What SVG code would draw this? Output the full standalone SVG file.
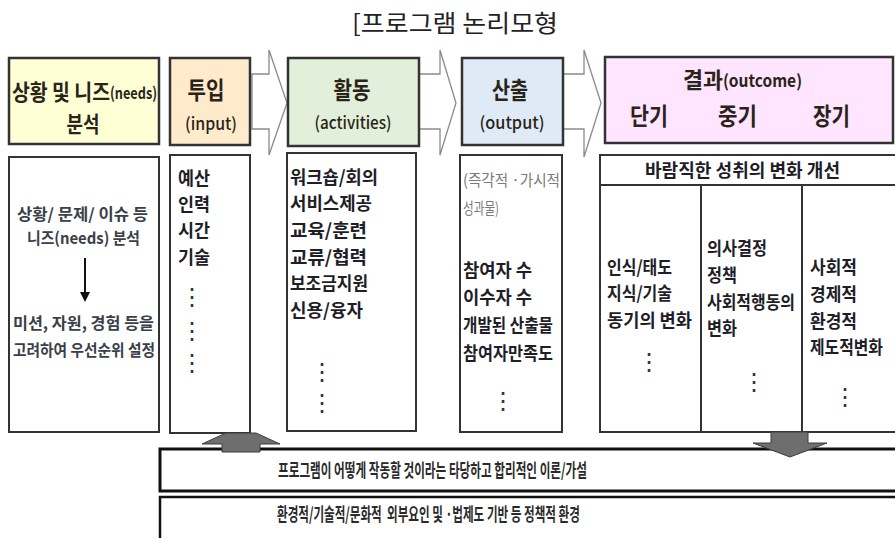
<svg xmlns="http://www.w3.org/2000/svg" width="895" height="538" viewBox="0 0 895 538">
<style>
.k{font-family:"Noto Sans CJK KR","Noto Sans",sans-serif;}
.h{font-weight:700;fill:#2a2418;}
.hl{font-weight:500;fill:#2a2418;}
.b{font-weight:700;fill:#1e1e28;font-size:18px;}
.g{font-weight:400;fill:#7a7a7a;font-size:16px;}
.s{font-weight:700;fill:#3a4048;font-size:16px;}
.m{font-weight:700;fill:#2a2a2a;font-size:18px;}
.d{font-family:"DejaVu Sans",sans-serif;fill:#333;font-size:24px;}
.hb{stroke:#333;stroke-width:2.5;}
.lb{fill:#fff;stroke:#333;stroke-width:2;}
.chev{fill:#fff;stroke:#8a8a8a;stroke-width:1.3;}
.blk{fill:#6e6e6e;stroke:#3c3c3c;stroke-width:1;}
</style>
<rect width="895" height="538" fill="#fff"/>
<text class="k" x="455" y="32" font-size="24" text-anchor="middle" fill="#222" textLength="206" lengthAdjust="spacingAndGlyphs">[프로그램 논리모형</text>

<g id="connectors">
<polygon class="chev" points="252,74 269,74 269,50 287,103 269,155 269,129 252,129"/>
<polygon class="chev" points="419,74 440,74 440,50 456,103 440,155 440,129 419,129"/>
<polygon class="chev" points="563,74 584,74 584,50 601,103 584,157 584,129 563,129"/>
</g>

<g id="situation">
<rect class="hb" x="9" y="58" width="150" height="86" fill="#FFFFD5"/>
<text class="k h" font-size="22" transform="translate(12,100) scale(0.82,1)" textLength="119.5" lengthAdjust="spacingAndGlyphs">상황 및 니즈</text>
<text class="k h" font-size="16" transform="translate(110,99) scale(0.88,1)" textLength="53.4" lengthAdjust="spacingAndGlyphs">(needs)</text>
<text class="k h" font-size="22" text-anchor="middle" transform="translate(83,132) scale(0.75,1)" textLength="44" lengthAdjust="spacingAndGlyphs">분석</text>
<rect class="lb" x="9" y="157" width="150" height="275"/>
<text class="k s" transform="translate(17,220) scale(0.97,1)" textLength="135" lengthAdjust="spacingAndGlyphs">상황/ 문제/ 이슈 등</text>
<text class="k s" transform="translate(27,244) scale(0.93,1)" textLength="121.5" lengthAdjust="spacingAndGlyphs">니즈(needs) 분석</text>
<line x1="85" y1="258" x2="85" y2="294" stroke="#111" stroke-width="2"/>
<polygon points="80,292 90,292 85,302" fill="#111"/>
<text class="k s" transform="translate(13,329) scale(0.96,1)" textLength="146.9" lengthAdjust="spacingAndGlyphs">미션, 자원, 경험 등을</text>
<text class="k s" transform="translate(13,356) scale(0.85,1)" textLength="167" lengthAdjust="spacingAndGlyphs">고려하여 우선순위 설정</text>
</g>

<g id="input">
<rect class="hb" x="170" y="58" width="80" height="87" fill="#FFEBCB"/>
<text class="k h" font-size="24" text-anchor="middle" transform="translate(206,99) scale(0.77,1)" textLength="48" lengthAdjust="spacingAndGlyphs">투입</text>
<text class="k hl" x="211" y="130" font-size="17" text-anchor="middle" textLength="52" lengthAdjust="spacingAndGlyphs">(input)</text>
<rect class="lb" x="170" y="155" width="80" height="278"/>
<text class="k b" transform="translate(178,185) scale(0.89,1)" textLength="36" lengthAdjust="spacingAndGlyphs">예산</text>
<text class="k b" transform="translate(178,211) scale(0.89,1)" textLength="36" lengthAdjust="spacingAndGlyphs">인력</text>
<text class="k b" transform="translate(178,237) scale(0.89,1)" textLength="36" lengthAdjust="spacingAndGlyphs">시간</text>
<text class="k b" transform="translate(178,264) scale(0.89,1)" textLength="36" lengthAdjust="spacingAndGlyphs">기술</text>
<text class="d" x="192" y="305" text-anchor="middle">⋮</text>
<text class="d" x="192" y="339" text-anchor="middle">⋮</text>
<text class="d" x="192" y="371" text-anchor="middle">⋮</text>
</g>

<g id="activities">
<rect class="hb" x="288" y="58" width="131" height="88" fill="#E2EFDA"/>
<text class="k h" font-size="24" text-anchor="middle" transform="translate(352,99) scale(0.77,1)" textLength="48" lengthAdjust="spacingAndGlyphs">활동</text>
<text class="k hl" x="353" y="129" font-size="17" text-anchor="middle" textLength="77" lengthAdjust="spacingAndGlyphs">(activities)</text>
<rect class="lb" x="287" y="153" width="129" height="278"/>
<text class="k b" transform="translate(290,184) scale(0.91,1)" textLength="96.7" lengthAdjust="spacingAndGlyphs">워크숍/회의</text>
<text class="k b" transform="translate(290,210) scale(0.91,1)" textLength="90" lengthAdjust="spacingAndGlyphs">서비스제공</text>
<text class="k b" transform="translate(290,237) scale(0.98,1)" textLength="78.6" lengthAdjust="spacingAndGlyphs">교육/훈련</text>
<text class="k b" transform="translate(290,264) scale(0.98,1)" textLength="78.6" lengthAdjust="spacingAndGlyphs">교류/협력</text>
<text class="k b" transform="translate(290,290) scale(0.87,1)" textLength="89.7" lengthAdjust="spacingAndGlyphs">보조금지원</text>
<text class="k b" transform="translate(290,317) scale(0.93,1)" textLength="78.5" lengthAdjust="spacingAndGlyphs">신용/융자</text>
<text class="d" x="322" y="380" text-anchor="middle">⋮</text>
<text class="d" x="322" y="411" text-anchor="middle">⋮</text>
</g>

<g id="output">
<rect class="hb" x="462" y="58" width="101" height="87" fill="#DEEBF7"/>
<text class="k h" font-size="24" text-anchor="middle" transform="translate(510,99) scale(0.75,1)" textLength="48" lengthAdjust="spacingAndGlyphs">산출</text>
<text class="k hl" x="512" y="129" font-size="17" text-anchor="middle" textLength="65" lengthAdjust="spacingAndGlyphs">(output)</text>
<rect class="lb" x="460" y="155" width="102" height="277"/>
<text class="k g" transform="translate(463,186) scale(0.89,1)" textLength="109" lengthAdjust="spacingAndGlyphs">(즉각적 ·가시적</text>
<text class="k g" transform="translate(463,214) scale(0.68,1)" textLength="53" lengthAdjust="spacingAndGlyphs">성과물)</text>
<text class="k b" transform="translate(463,277) scale(0.91,1)" textLength="75.8" lengthAdjust="spacingAndGlyphs">참여자 수</text>
<text class="k b" transform="translate(463,304) scale(0.91,1)" textLength="75.8" lengthAdjust="spacingAndGlyphs">이수자 수</text>
<text class="k b" transform="translate(463,332) scale(0.8,1)" textLength="112.5" lengthAdjust="spacingAndGlyphs">개발된 산출물</text>
<text class="k b" transform="translate(463,360) scale(0.83,1)" textLength="108.4" lengthAdjust="spacingAndGlyphs">참여자만족도</text>
<text class="d" x="503" y="409" text-anchor="middle">⋮</text>
</g>

<g id="outcome">
<rect class="hb" x="605" y="57" width="288" height="86" fill="#FFE5FF"/>
<text class="k h" font-size="22" transform="translate(683,88) scale(0.91,1)" textLength="44" lengthAdjust="spacingAndGlyphs">결과</text>
<text class="k h" x="723" y="87" font-size="17" textLength="79" lengthAdjust="spacingAndGlyphs">(outcome)</text>
<text class="k h" font-size="24" transform="translate(630,125) scale(0.79,1)" textLength="48" lengthAdjust="spacingAndGlyphs">단기</text>
<text class="k h" font-size="24" transform="translate(718,125) scale(0.81,1)" textLength="48" lengthAdjust="spacingAndGlyphs">중기</text>
<text class="k h" font-size="24" transform="translate(813,125) scale(0.77,1)" textLength="48" lengthAdjust="spacingAndGlyphs">장기</text>
<rect class="lb" x="600" y="155" width="300" height="277"/>
<line x1="600" y1="185" x2="900" y2="185" stroke="#333" stroke-width="2"/>
<line x1="701" y1="185" x2="701" y2="432" stroke="#333" stroke-width="2"/>
<line x1="802" y1="185" x2="802" y2="432" stroke="#333" stroke-width="2"/>
<text class="k b" transform="translate(645,177) scale(0.93,1)" textLength="209.7" lengthAdjust="spacingAndGlyphs">바람직한 성취의 변화 개선</text>
<text class="k b" transform="translate(607,274) scale(0.82,1)" textLength="79.3" lengthAdjust="spacingAndGlyphs">인식/태도</text>
<text class="k b" transform="translate(607,300) scale(0.82,1)" textLength="79.3" lengthAdjust="spacingAndGlyphs">지식/기술</text>
<text class="k b" transform="translate(607,327) scale(0.9,1)" textLength="94.4" lengthAdjust="spacingAndGlyphs">동기의 변화</text>
<text class="d" x="649" y="370" text-anchor="middle">⋮</text>
<text class="k b" transform="translate(707,255) scale(0.83,1)" textLength="72.3" lengthAdjust="spacingAndGlyphs">의사결정</text>
<text class="k b" transform="translate(707,282) scale(0.83,1)" textLength="36.1" lengthAdjust="spacingAndGlyphs">정책</text>
<text class="k b" transform="translate(707,309) scale(0.81,1)" textLength="108.6" lengthAdjust="spacingAndGlyphs">사회적행동의</text>
<text class="k b" transform="translate(707,335) scale(0.83,1)" textLength="36.1" lengthAdjust="spacingAndGlyphs">변화</text>
<text class="d" x="754" y="390" text-anchor="middle">⋮</text>
<text class="k b" transform="translate(810,274) scale(0.87,1)" textLength="54" lengthAdjust="spacingAndGlyphs">사회적</text>
<text class="k b" transform="translate(810,301) scale(0.87,1)" textLength="54" lengthAdjust="spacingAndGlyphs">경제적</text>
<text class="k b" transform="translate(810,328) scale(0.87,1)" textLength="54" lengthAdjust="spacingAndGlyphs">환경적</text>
<text class="k b" transform="translate(810,354) scale(0.81,1)" textLength="90" lengthAdjust="spacingAndGlyphs">제도적변화</text>
<text class="d" x="845" y="405" text-anchor="middle">⋮</text>
</g>

<g id="theory">
<rect x="160" y="449" width="740" height="42" fill="#fff" stroke="#111" stroke-width="3"/>
<text class="k m" transform="translate(278,477) scale(0.598,1)" textLength="516.6" lengthAdjust="spacingAndGlyphs">프로그램이 어떻게 작동할 것이라는 타당하고 합리적인 이론/가설</text>
</g>
<g id="environment">
<rect x="160" y="497" width="740" height="50" fill="#fff" stroke="#111" stroke-width="2.5"/>
<text class="k m" xml:space="preserve" transform="translate(277,521) scale(0.601,1)" textLength="504" lengthAdjust="spacingAndGlyphs">환경적/기술적/문화적  외부요인 및 ·법제도 기반 등 정책적 환경</text>
</g>

<g id="block-arrows">
<polygon class="blk" points="222,452 222,444 202,444 226,433 256,433 280,444 260,444 260,452"/>
<polygon class="blk" points="771,432 808,432 808,443 827,443 790,457 753,443 771,443"/>
</g>
</svg>
